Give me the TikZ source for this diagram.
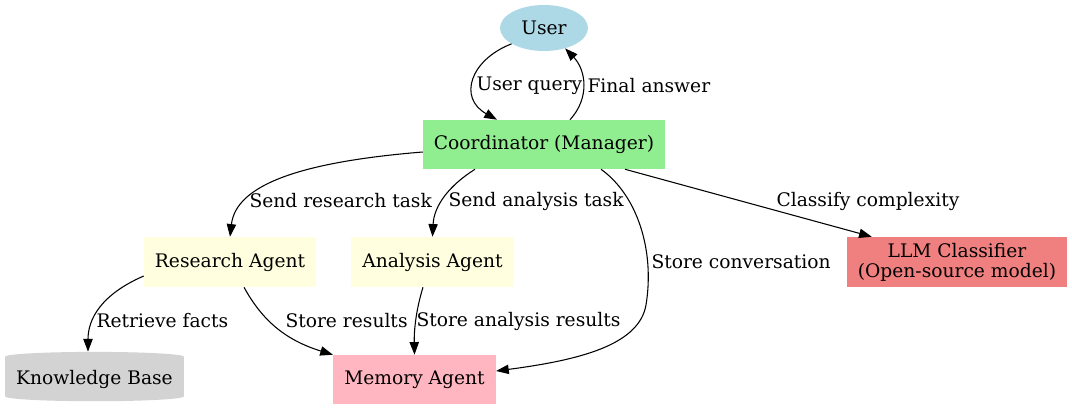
\documentclass[tikz,border=0pt]{standalone}
\usepackage{fontspec}
\setmainfont{DejaVu Serif}
\usetikzlibrary{
  arrows.meta,
  positioning,
  calc,
  shapes.geometric
}
\definecolor{ink}{HTML}{000000}
\definecolor{userblue}{HTML}{ADD8E6}
\definecolor{mgrgreen}{HTML}{90EE90}
\definecolor{agentyellow}{HTML}{FFFFE0}
\definecolor{llmred}{HTML}{F08080}
\definecolor{mempink}{HTML}{FFB6C1}
\definecolor{kbgrey}{HTML}{D3D3D3}
\tikzset{
  >={Triangle[length=9.5pt,width=7pt]},
  every node/.style={font=\fontsize{14}{15}\selectfont, text=ink},
  block/.style={
    rectangle,
    fill=agentyellow,
    align=center,
    minimum height=37.5pt,
    inner sep=2pt
  },
  userbox/.style={ellipse, fill=userblue, minimum width=66pt, minimum height=34.5pt, inner sep=0pt},
  store/.style={
    cylinder,
    shape border rotate=90,
    aspect=0.06,
    fill=kbgrey,
    minimum width=134pt,
    minimum height=37pt,
    inner sep=1pt
  },
  arrow/.style={->, line width=0.8pt, draw=ink},
  annot/.style={anchor=west, inner sep=0pt}
}

\begin{document}
\begin{tikzpicture}[x=0.75pt, y=-0.75pt]
  \useasboundingbox (0,0) rectangle (1072,409);

  \node[userbox] (user) at (544,28) {User};
  \node[block, fill=mgrgreen, minimum width=181.5pt, minimum height=36.75pt] (coord) at (544,144.5) {Coordinator (Manager)};
  \node[block, minimum width=129pt] (research) at (230,262) {Research Agent};
  \node[block, minimum width=122pt] (analysis) at (432.5,262) {Analysis Agent};
  \node[block, fill=llmred, minimum width=165pt] (llm) at (957,262) {LLM Classifier\\(Open-source model)};
  \node[store] (kb) at (94.5,379.5) {Knowledge Base};
  \node[block, fill=mempink, minimum width=122pt, minimum height=36.75pt] (memory) at (414.5,379.5) {Memory Agent};

  \draw[arrow] (user.206) .. controls (470,60) and (458,98) .. ($(coord.north)+(-47,0)$)
    node[annot] at (476,86) {User query};
  \draw[arrow] ($(coord.north)+(26,0)$) .. controls (590,98) and (586,70) .. (user.-44)
    node[annot] at (587,86) {Final answer};

  \draw[arrow] ($(coord.west)+(0,7.5)$) .. controls (300,162) and (236,185) .. (research.north)
    node[annot] at (249,201) {Send research task};
  \draw[arrow] ($(coord.south)+(-69,0)$) .. controls (450,185) and (434,205) .. (analysis.north)
    node[annot] at (448,201) {Send analysis task};
  \draw[arrow] ($(coord.south)+(57,0)$) .. controls (637,195) and (655,250) .. (646,305)
    .. controls (639,345) and (580,360) .. ($(memory.east)+(0,-8.5)$)
    node[annot] at (651,262) {Store conversation};
  \draw[arrow] ($(coord.south)+(81,0)$) -- ($(llm.north west)+(25,0)$)
    node[annot] at (776,201) {Classify complexity};

  \draw[arrow] ($(research.west)+(0,14)$) .. controls (100,295) and (88,320) .. ($(kb.north)+(-6.5,0)$)
    node[annot] at (96,321) {Retrieve facts};
  \draw[arrow] ($(research.south)+(14,0)$) .. controls (262,320) and (285,340) .. (memory.north west)
    node[annot] at (285,321) {Store results};
  \draw[arrow] ($(analysis.south)+(-9.5,0)$) .. controls (416,310) and (414,330) .. (memory.north)
    node[annot] at (416,321) {Store analysis results};
\end{tikzpicture}
\end{document}
